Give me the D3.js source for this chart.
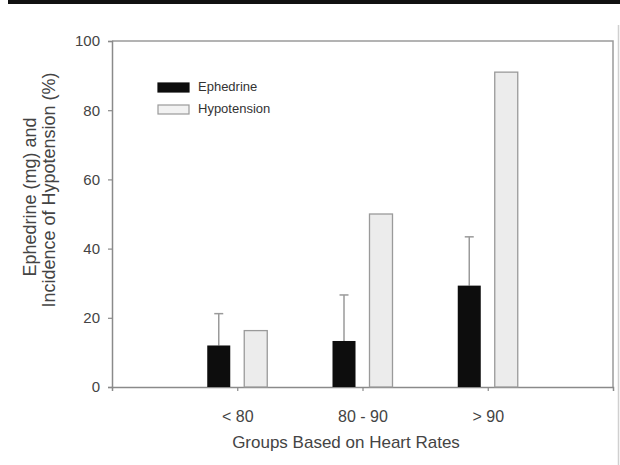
<!DOCTYPE html>
<html><head><meta charset="utf-8">
<script src="https://cdn.jsdelivr.net/npm/d3@7"></script>
<style>body{margin:0;background:#fff}svg{display:block}</style>
</head><body>
<script>
const categories = ["< 80", "80 - 90", "> 90"];
const series = ["Ephedrine", "Hypotension"];
const ephedrine = [12, 13.3, 29.3];
const ephedrineSD = [9.2, 13.3, 14.1];
const hypotension = [16.3, 50, 91];
const yTicks = [0, 20, 40, 60, 80, 100];

const W = 620, H = 465;
const svg = d3.select("body").append("svg").attr("width", W).attr("height", H);
const font = "Arial, 'Liberation Sans', Helvetica, sans-serif";
const axisCol = "#8a8a8a", textCol = "#444";

// top rule and right edge line
svg.append("rect").attr("x", 8).attr("y", 0).attr("width", W - 8).attr("height", 4).attr("fill", "#111");
svg.append("line").attr("x1", 618.5).attr("x2", 618.5).attr("y1", 25).attr("y2", H)
  .attr("stroke", "#d0d0d0").attr("stroke-width", 1.5);

const x = d3.scaleLinear().domain([0, categories.length + 1]).range([112, 613]);
const y = d3.scaleLinear().domain([0, 100]).range([387, 41]);
const x1 = d3.scaleBand().domain(series).range([-30, 30]).paddingInner(0.378);

// frame top/right
svg.append("path").attr("d", `M${x(0)},${y(100)}H${x(4)}V${y(0)}`)
  .attr("fill", "none").attr("stroke", "#9a9a9a").attr("stroke-width", 1.5);

// y axis
const yAxis = svg.append("g").attr("transform", `translate(${x(0)},0)`)
  .call(d3.axisLeft(y).tickValues(yTicks).tickSize(4).tickPadding(8));
// x axis
const xAxis = svg.append("g").attr("transform", `translate(0,${y(0)})`)
  .call(d3.axisBottom(x).tickValues(categories.map((c, i) => i + 1))
    .tickFormat((d) => categories[d - 1]).tickSize(4).tickPadding(20));
[yAxis, xAxis].forEach(g => {
  g.select(".domain").attr("stroke", axisCol).attr("stroke-width", 1.5);
  g.selectAll(".tick line").attr("stroke", axisCol).attr("stroke-width", 1.2);
  g.selectAll("text").attr("fill", textCol).style("font-family", font);
});
yAxis.selectAll("text").style("font-size", "15px");
xAxis.selectAll("text").style("font-size", "16px");

// bars
const groups = svg.append("g").selectAll("g").data(categories).join("g")
  .attr("transform", (d, i) => `translate(${x(i + 1)},0)`);

groups.append("rect")
  .attr("x", x1("Hypotension")).attr("width", x1.bandwidth())
  .attr("y", (d, i) => y(hypotension[i])).attr("height", (d, i) => y(0) - y(hypotension[i]))
  .attr("fill", "#ececec").attr("stroke", "#9a9a9a").attr("stroke-width", 1.3);

// error bars
groups.append("line")
  .attr("x1", x1("Ephedrine") + x1.bandwidth() / 2).attr("x2", x1("Ephedrine") + x1.bandwidth() / 2)
  .attr("y1", (d, i) => y(ephedrine[i])).attr("y2", (d, i) => y(ephedrine[i] + ephedrineSD[i]))
  .attr("stroke", "#9a9a9a").attr("stroke-width", 1.5);
groups.append("line")
  .attr("x1", x1("Ephedrine") + x1.bandwidth() / 2 - 4.5).attr("x2", x1("Ephedrine") + x1.bandwidth() / 2 + 4.5)
  .attr("y1", (d, i) => y(ephedrine[i] + ephedrineSD[i])).attr("y2", (d, i) => y(ephedrine[i] + ephedrineSD[i]))
  .attr("stroke", "#9a9a9a").attr("stroke-width", 1.5);

groups.append("rect")
  .attr("x", x1("Ephedrine")).attr("width", x1.bandwidth())
  .attr("y", (d, i) => y(ephedrine[i])).attr("height", (d, i) => y(0) - y(ephedrine[i]))
  .attr("fill", "#0d0d0d");

// legend
const legend = svg.append("g");
const legendFill = {Ephedrine: "#0d0d0d", Hypotension: "#f2f2f2"};
series.forEach((s, i) => {
  const yy = 83 + i * 22;
  legend.append("rect").attr("x", 158).attr("y", yy).attr("width", 31).attr("height", 9)
    .attr("fill", legendFill[s]).attr("stroke", s === "Ephedrine" ? "#0d0d0d" : "#9a9a9a").attr("stroke-width", 1.2);
  legend.append("text").attr("x", 198).attr("y", yy + 8).text(s)
    .attr("fill", "#333").style("font-family", font).style("font-size", "13px");
});

// axis titles
svg.append("text").attr("x", 346).attr("y", 448).attr("text-anchor", "middle")
  .text("Groups Based on Heart Rates").attr("fill", textCol)
  .style("font-family", font).style("font-size", "17px");
svg.append("text").attr("transform", "translate(36,197) rotate(-90)").attr("text-anchor", "middle")
  .text("Ephedrine (mg) and").attr("fill", textCol)
  .style("font-family", font).style("font-size", "18px");
svg.append("text").attr("transform", "translate(55,190) rotate(-90)").attr("text-anchor", "middle")
  .text("Incidence of Hypotension (%)").attr("fill", textCol)
  .style("font-family", font).style("font-size", "18px");
</script>
</body></html>
